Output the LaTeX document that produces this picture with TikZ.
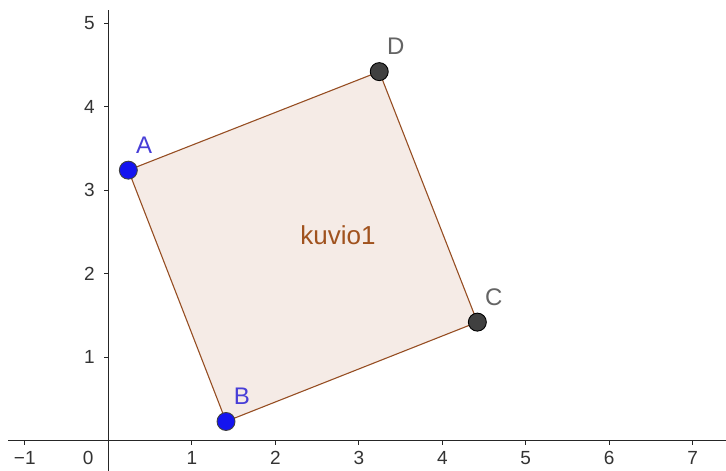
\documentclass[tikz,border=0pt]{standalone}
\usepackage{fontspec}
\setmainfont{Liberation Sans}
\usepackage{tikz}
\usetikzlibrary{positioning}

\definecolor{polyedge}{RGB}{150,78,35}
\definecolor{polytext}{RGB}{160,82,30}
\definecolor{polyfill}{RGB}{245,235,230}
\definecolor{freept}{RGB}{20,20,240}
\definecolor{freelbl}{RGB}{72,62,215}
\definecolor{deppt}{RGB}{64,64,64}
\definecolor{deplbl}{RGB}{100,100,100}

\begin{document}
\begin{tikzpicture}[
    x=83.5pt, y=83.5pt,
    axis/.style={line width=1.4pt, draw=black!85},
    axtick/.style={line width=1pt, draw=black!85},
    num/.style={inner sep=0pt, font=\fontsize{19}{19}\selectfont, text=black!80},
    poly/.style={draw=polyedge, fill=polyfill, line width=1.1pt},
    ptfree/.style={circle, draw=black!75, fill=freept, minimum size=18pt, inner sep=0pt, line width=0.9pt},
    ptdep/.style={circle, draw=black, fill=deppt, minimum size=18pt, inner sep=0pt, line width=0.9pt},
    lbl/.style={inner sep=0pt, font=\fontsize{24}{24}\selectfont},
]
    \useasboundingbox (-1.297,-0.363) rectangle (7.398,5.278);

    % Axes
    \coordinate (xl) at (-1.2,0);
    \coordinate (xr) at (7.398,0);
    \coordinate (yb) at (0,-0.363);
    \coordinate (yt) at (0,5.16);
    \draw[axis] (xl) -- (xr);
    \draw[axis] (yb) -- (yt);

    \foreach \x/\t in {-1/−1, 1/1, 2/2, 3/3, 4/4, 5/5, 6/6, 7/7} {
        \draw[axtick] (\x,0) -- (\x,-0.055);
        \node[num] (nx\x) at (\x,-0.21) {\t};
    }
    \node[num] (nx0) at (-0.24,-0.21) {0};
    \foreach \y in {1,...,5} {
        \draw[axtick] (0,\y) -- (-0.055,\y);
        \node[num, anchor=east] (ny\y) at (-0.16,\y) {\y};
    }

    % Square
    \coordinate (pA) at (0.24,3.24);
    \coordinate (pB) at (1.41,0.23);
    \coordinate (pC) at (4.42,1.42);
    \coordinate (pD) at (3.245,4.42);
    \filldraw[poly] (pA) -- (pB) -- (pC) -- (pD) -- cycle;
    \node[font=\fontsize{26}{26}\selectfont, text=polytext] (kuvio) at (2.75,2.46) {kuvio1};

    % Points
    \node[ptfree] (A) at (pA) {};
    \node[ptfree] (B) at (pB) {};
    \node[ptdep] (C) at (pC) {};
    \node[ptdep] (D) at (pD) {};

    \node[lbl, text=freelbl, above right=10pt and 1pt of A] (lA) {A};
    \node[lbl, text=freelbl, above right=10pt and 1pt of B] (lB) {B};
    \node[lbl, text=deplbl, above right=10pt and 1pt of C] (lC) {C};
    \node[lbl, text=deplbl, above right=10pt and 1pt of D] (lD) {D};
\end{tikzpicture}
\end{document}
